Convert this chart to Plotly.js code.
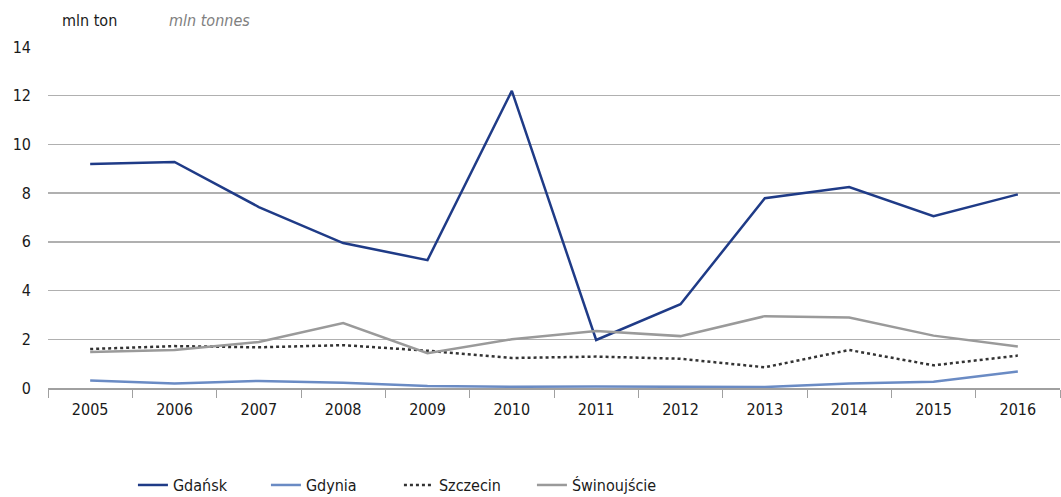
<!DOCTYPE html>
<html><head><meta charset="utf-8">
<script src="https://cdn.plot.ly/plotly-3.0.1.min.js"></script>
<style>body{margin:0;background:#fff}#chart{width:1061px;height:497px}</style>
</head><body><div id="chart"></div>
<script>
var years = ['2005','2006','2007','2008','2009','2010','2011','2012','2013','2014','2015','2016'];
var gdansk = [9.2, 9.28, 7.43, 5.95, 5.25, 12.2, 1.97, 3.44, 7.79, 8.25, 7.05, 7.95];
var gdynia = [0.31, 0.18, 0.29, 0.22, 0.08, 0.05, 0.06, 0.04, 0.04, 0.18, 0.26, 0.68];
var szczecin = [1.6, 1.72, 1.67, 1.76, 1.53, 1.23, 1.29, 1.2, 0.85, 1.56, 0.93, 1.33];
var swinoujscie = [1.48, 1.56, 1.89, 2.67, 1.43, 2.0, 2.34, 2.13, 2.95, 2.89, 2.15, 1.7];
var yTicks = [0, 2, 4, 6, 8, 10, 12, 14];

var FONT = '"DejaVu Sans Condensed", "Liberation Sans Narrow", "Roboto", sans-serif';
var traces = [
  {name: 'Gdańsk', x: years, y: gdansk, line: {color: '#1f3b87', width: 2.5}},
  {name: 'Gdynia', x: years, y: gdynia, line: {color: '#6a8bc4', width: 2.5}},
  {name: 'Szczecin', x: years, y: szczecin, line: {color: '#333333', width: 2.5, dash: 'dot'}},
  {name: 'Świnoujście', x: years, y: swinoujscie, line: {color: '#9a9a9a', width: 2.5}}
].map(function(t){ t.type='scatter'; t.mode='lines'; return t; });

var layout = {
  width: 1061, height: 497,
  margin: {l: 48, r: 1, t: 47, b: 109},
  paper_bgcolor: '#fff', plot_bgcolor: '#fff',
  font: {family: FONT, size: 16, color: '#1a1a1a'},
  showlegend: true,
  legend: {orientation: 'h', x: 0.376, xanchor: 'center', xref: 'container',
           y: 0.024, yanchor: 'middle', yref: 'container',
           entrywidth: 88, font: {family: FONT, size: 16, color: '#1a1a1a'}},
  xaxis: {type: 'category', range: [-0.5, 11.5], tickson: 'boundaries', ticks: 'outside', ticklen: 8,
          tickcolor: '#a0a0a0', showline: true, linecolor: '#a0a0a0', linewidth: 1.5,
          ticklabelstandoff: 6,
          showgrid: false, tickfont: {family: FONT, size: 16, color: '#1a1a1a'}, fixedrange: true},
  yaxis: {range: [0, 14], tickvals: yTicks, showline: false, showgrid: true,
          gridcolor: '#b0b0b0', gridwidth: 1.5, zeroline: false, ticks: '',
          ticklabelstandoff: 16, tickfont: {family: FONT, size: 16, color: '#1a1a1a'}, fixedrange: true},
  annotations: [
    {text: 'mln ton', xref: 'paper', yref: 'paper', x: 0.012, y: 1.0, yshift: 15,
     xanchor: 'left', yanchor: 'bottom', showarrow: false,
     font: {family: FONT, size: 16, color: '#1a1a1a'}},
    {text: '<i>mln tonnes</i>', xref: 'paper', yref: 'paper', x: 0.118, y: 1.0, yshift: 15,
     xanchor: 'left', yanchor: 'bottom', showarrow: false,
     font: {family: FONT, size: 16, color: '#808080'}}
  ]
};
Plotly.newPlot('chart', traces, layout, {displayModeBar: false, staticPlot: true});
</script></body></html>
